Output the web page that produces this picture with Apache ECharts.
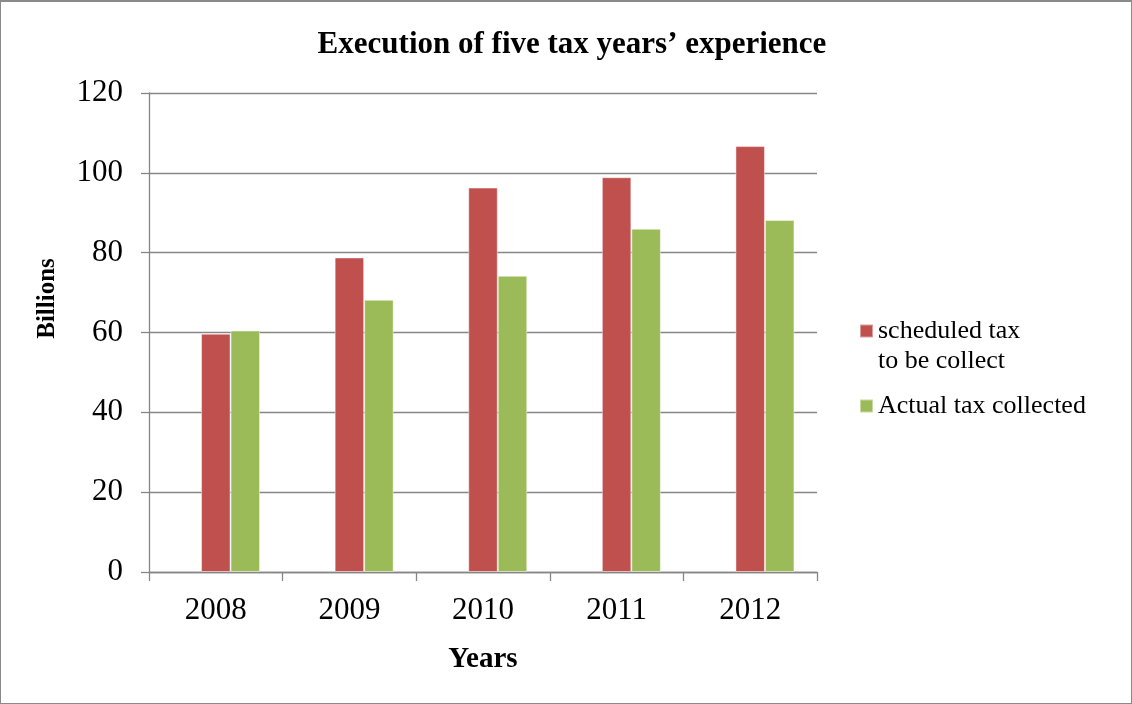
<!DOCTYPE html>
<html>
<head>
<meta charset="utf-8">
<script src="https://cdn.jsdelivr.net/npm/echarts@6/dist/echarts.min.js"></script>
<style>
  html, body { margin: 0; padding: 0; background: #fff; }
  #wrap { position: relative; width: 1132px; height: 704px; }
  #chart { position: absolute; left: 0; top: 0; width: 1132px; height: 704px; }
  #frame { position: absolute; left: 0; top: 0; width: 1132px; height: 704px;
           box-sizing: border-box; border: 1px solid #8a8a8a; border-top-width: 2px;
           pointer-events: none; }
</style>
</head>
<body>
<div id="wrap">
  <div id="chart"></div>
  <div id="frame"></div>
</div>
<script>
// Tax collection, 2008-2012 (billions)
const years = ['2008', '2009', '2010', '2011', '2012'];
const scheduledTax = [59.7, 78.8, 96.3, 98.9, 106.7];
const actualTax = [60.5, 68.2, 74.2, 86.0, 88.2];
const yTicks = { min: 0, max: 120, step: 20 };

const scheduledName = 'scheduled tax\nto be collect';
const actualName = 'Actual tax collected';

const serif = "'Liberation Serif', 'Times New Roman', serif";
const axisGrey = '#868686';

const chart = echarts.init(document.getElementById('chart'), null, { renderer: 'canvas' });

chart.setOption({
  animation: false,
  backgroundColor: '#ffffff',
  textStyle: { fontFamily: serif, color: '#000' },
  title: {
    text: 'Execution of five tax years\u2019 experience',
    left: 567,
    textAlign: 'center',
    top: 24,
    textStyle: { fontFamily: serif, fontWeight: 'bold', fontSize: 31, color: '#000' }
  },
  legend: [
    {
      // a leading blank line keeps the first text line level with the swatch
      data: [scheduledName],
      formatter: name => '\n' + name,
      orient: 'vertical',
      left: 859,
      top: 286,
      padding: 0,
      itemWidth: 13,
      itemHeight: 13,
      itemGap: 0,
      icon: 'rect',
      selectedMode: false,
      textStyle: { fontFamily: serif, fontSize: 26, color: '#000', lineHeight: 30 }
    },
    {
      data: [actualName],
      orient: 'vertical',
      left: 859,
      top: 393,
      padding: 0,
      itemWidth: 13,
      itemHeight: 13,
      icon: 'rect',
      selectedMode: false,
      textStyle: { fontFamily: serif, fontSize: 26, color: '#000', lineHeight: 25 }
    }
  ],
  grid: { left: 149, right: 315, top: 93, bottom: 132, containLabel: false },
  xAxis: {
    type: 'category',
    data: years,
    name: 'Years',
    nameLocation: 'middle',
    nameGap: 73,
    nameTextStyle: { fontFamily: serif, fontWeight: 'bold', fontSize: 29, color: '#000' },
    axisLine: { lineStyle: { color: axisGrey, width: 1.3 } },
    axisTick: { show: true, alignWithLabel: false, length: 9, lineStyle: { color: axisGrey, width: 1.3 } },
    axisLabel: { fontFamily: serif, fontSize: 31, color: '#000', margin: 23 },
    splitLine: { show: false }
  },
  yAxis: {
    type: 'value',
    min: yTicks.min,
    max: yTicks.max,
    interval: yTicks.step,
    name: 'Billions',
    nameLocation: 'middle',
    nameGap: 89,
    nameRotate: 90,
    // extra leading padding lifts the title above the plot's midpoint
    nameTextStyle: { fontFamily: serif, fontWeight: 'bold', fontSize: 25, color: '#000', padding: [0, 0, 0, 68] },
    axisLine: { show: true, lineStyle: { color: axisGrey, width: 1.3 } },
    axisTick: { show: true, length: 8, lineStyle: { color: axisGrey, width: 1.3 } },
    axisLabel: { fontFamily: serif, fontSize: 31, color: '#000', margin: 26 },
    splitLine: { show: true, lineStyle: { color: axisGrey, width: 1.3 } }
  },
  series: [
    {
      // empty slot so each red bar sits on its category's centre
      name: 'slot',
      type: 'bar',
      data: years.map(() => null),
      barWidth: 29.5,
      barGap: 0,
      silent: true
    },
    {
      name: scheduledName,
      type: 'bar',
      data: scheduledTax,
      barWidth: 29.5,
      barGap: 0,
      itemStyle: { color: '#C0504D', borderColor: 'rgba(255,255,255,0.45)', borderWidth: 1 }
    },
    {
      name: actualName,
      type: 'bar',
      data: actualTax,
      barWidth: 29.5,
      barGap: 0,
      itemStyle: { color: '#9BBB59', borderColor: 'rgba(255,255,255,0.45)', borderWidth: 1 }
    }
  ]
});
</script>
</body>
</html>
